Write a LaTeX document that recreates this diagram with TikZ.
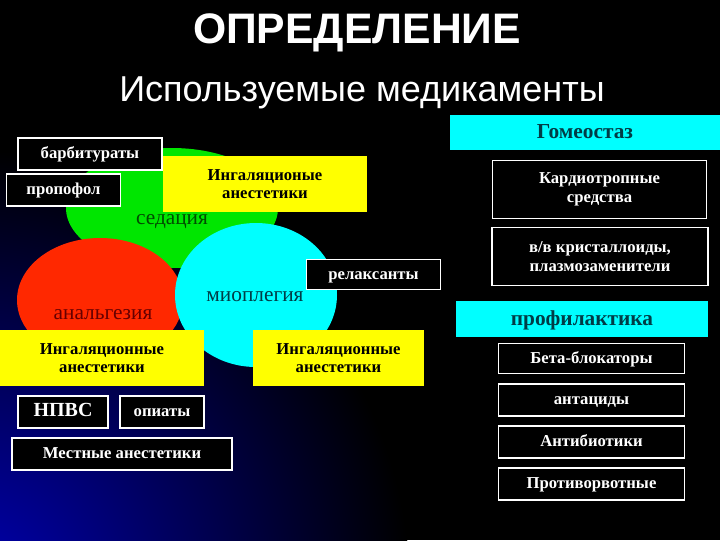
\documentclass[tikz,border=0pt]{standalone}
\usepackage{fontspec}
\setmainfont{Liberation Serif}
\setsansfont{Liberation Sans}
\definecolor{cy}{RGB}{0,255,255}
\definecolor{gr}{RGB}{0,230,0}
\definecolor{rd}{RGB}{255,40,0}
\definecolor{yl}{RGB}{255,255,0}
\definecolor{cytx}{RGB}{0,60,70}
\begin{document}
\begin{tikzpicture}[x=0.75pt,y=-0.75pt,
  bx/.style={draw=white,line width=0.9pt,fill=black,text=white,font=\bfseries\fontsize{12.5}{14}\selectfont,align=center,inner sep=0pt},
  one/.style={text height=8.5pt,text depth=1.5pt},
  yb/.style={fill=yl,text=black,font=\bfseries\fontsize{12.5}{14}\selectfont,align=center,inner sep=0pt},
  cb/.style={fill=cy,text=cytx,font=\bfseries\fontsize{16}{18}\selectfont,align=center,inner sep=0pt,text height=11pt,text depth=2pt},
  el/.style={font=\fontsize{16}{18}\selectfont}]
\useasboundingbox (0,0) rectangle (720,540);
\begin{scope}
\clip (0,0) rectangle (720,540);
\fill[black] (0,0) rectangle (720,540);
\shade[inner color=blue!70!black, outer color=black] (-30,590) circle (440);
\end{scope}
\node[font=\sffamily\bfseries\fontsize{32}{36}\selectfont,text=white] (t) at (357,33) {ОПРЕДЕЛЕНИЕ};
\node[font=\sffamily\fontsize{27}{30}\selectfont,text=white] (s) at (362,93) {Используемые медикаменты};
\fill[gr] (172,208) ellipse (106 and 60);
\fill[rd] (100,300) ellipse (83 and 62);
\fill[cy] (256,295) ellipse (81 and 72);
\node[el,text=green!30!black] (sed) at (172,222) {седация};
\node[el,text=red!40!black] (an) at (103,315) {анальгезия};
\node[el,text=cytx] (mio) at (255,297) {миоплегия};
\node[yb,minimum width=153pt,minimum height=42pt] (y1) at (265,184) {Ингаляционые\\анестетики};
\node[bx,one,minimum width=108pt,minimum height=24pt] (b1) at (90,154) {барбитураты};
\node[bx,one,minimum width=86pt,minimum height=24pt] (b2) at (63.5,190) {пропофол};
\node[bx,one,minimum width=100pt,minimum height=23pt] (rel) at (373.5,274.5) {релаксанты};
\node[yb,minimum width=153pt,minimum height=42pt] (y2) at (102,358) {Ингаляционные\\анестетики};
\node[yb,minimum width=128pt,minimum height=42pt] (y3) at (338.5,358) {Ингаляционные\\анестетики};
\node[bx,one,minimum width=67.5pt,minimum height=24pt,font=\bfseries\fontsize{15}{17}\selectfont] (np) at (63,412) {НПВС};
\node[bx,one,minimum width=63pt,minimum height=24pt] (op) at (162,412) {опиаты};
\node[bx,one,minimum width=165pt,minimum height=24pt] (me) at (122,454) {Местные анестетики};
\node[cb,minimum width=202pt,minimum height=26pt] (g) at (585,132.5) {Гомеостаз};
\node[bx,minimum width=161pt,minimum height=43pt] (k) at (599.5,189.5) {Кардиотропные\\средства};
\node[bx,minimum width=162pt,minimum height=43pt] (v) at (600,256.5) {в/в кристаллоиды,\\плазмозаменители};
\node[cb,minimum width=189pt,minimum height=27pt] (p) at (582,319) {профилактика};
\node[bx,one,minimum width=140pt,minimum height=23pt] (r1) at (591.5,358.5) {Бета-блокаторы};
\node[bx,one,minimum width=140pt,minimum height=24pt] (r2) at (591.5,400) {антациды};
\node[bx,one,minimum width=140pt,minimum height=24pt] (r3) at (591.5,442) {Антибиотики};
\node[bx,one,minimum width=140pt,minimum height=24pt] (r4) at (591.5,484) {Противорвотные};
\end{tikzpicture}
\end{document}
